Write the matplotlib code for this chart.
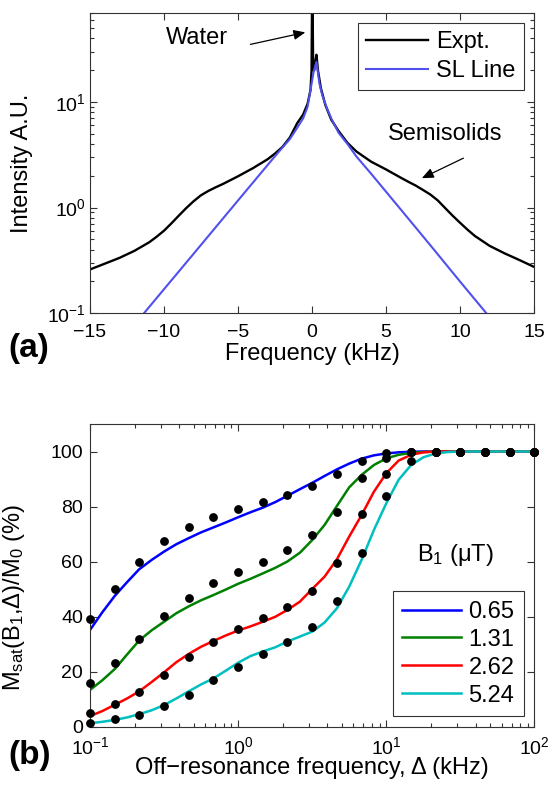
import matplotlib
matplotlib.use("Agg")
import matplotlib.pyplot as plt
from matplotlib.ticker import LogLocator, FixedLocator, NullFormatter

plt.rcParams['font.family'] = ['Liberation Sans', 'DejaVu Sans']
plt.rcParams['mathtext.fontset'] = 'custom'
plt.rcParams['mathtext.rm'] = 'Liberation Sans'
plt.rcParams['mathtext.it'] = 'Liberation Sans:italic'
plt.rcParams['mathtext.bf'] = 'Liberation Sans:bold'

# ---------------- panel (a) data ----------------
freq_expt = [-15, -14, -13, -12, -11, -10.5, -10, -9.5, -9, -8.5, -8, -7.5, -7, -6.5, -6,
             -5, -4, -3, -2.5, -2, -1.5, -1, -0.6, -0.3, -0.1, -0.03, 0.0, 0.04, 0.08,
             0.15, 0.22, 0.3, 0.4, 0.6, 0.9, 1.3, 1.8, 2.4, 3, 4, 5, 6, 6.5, 7, 7.5, 8,
             8.5, 9, 9.5, 10, 10.5, 11, 12, 13, 14, 15]
int_expt = [0.26, 0.295, 0.335, 0.39, 0.47, 0.53, 0.605, 0.71, 0.84, 0.99, 1.15, 1.31,
            1.44, 1.56, 1.68, 1.98, 2.36, 2.87, 3.25, 3.75, 4.6, 6.3, 7.6, 9.6, 13, 20,
            80, 80, 20, 20, 24, 28, 20, 13.5, 9.4, 6.8, 5.3, 4.1, 3.4, 2.72, 2.3, 1.92,
            1.76, 1.62, 1.47, 1.33, 1.17, 0.99, 0.84, 0.72, 0.62, 0.54, 0.435, 0.37,
            0.32, 0.275]

freq_sl = [-12, -10, -8, -6, -4, -3, -2.5, -2, -1.5, -1, -0.6, -0.3, -0.1, 0.1, 0.3,
           0.5, 0.7, 1.0, 1.3, 1.8, 2.4, 3.0, 4, 6, 8, 10, 12, 12.5]
int_sl = [0.078, 0.169, 0.366, 0.794, 1.72, 2.53, 3.07, 3.7, 4.45, 5.7, 7.0, 9.0, 13,
          19, 24, 15, 11.5, 8.8, 7.0, 5.1, 4.0, 3.05, 2.09, 0.96, 0.44, 0.20, 0.092, 0.076]

# ---------------- panel (b) data ----------------
b1_labels = ['0.65', '1.31', '2.62', '5.24']
b1_colors = ['#0000ff', '#008000', '#ff0000', '#00bfbf']

offres_pts = [0.1, 0.147, 0.215, 0.316, 0.464, 0.681, 1.0, 1.47, 2.15, 3.16, 4.64, 6.81,
              10, 14.7, 21.5, 31.6, 46.4, 68.1, 100]
msat_pts_065 = [39.0, 50.1, 59.8, 67.4, 72.6, 76.2, 79.1, 81.8, 84.3, 87.6, 91.7, 96.7,
                99.3, 99.8, 100, 100, 100, 100, 100]
msat_pts_131 = [15.9, 23.2, 31.7, 40.2, 46.9, 52.1, 56.3, 60.0, 64.2, 69.7, 77.9, 90.5,
                97.5, 99.8, 100, 100, 100, 100, 100]
msat_pts_262 = [5.0, 8.1, 12.7, 18.7, 25.2, 30.7, 35.5, 39.3, 43.6, 49.4, 59.4, 77.2,
                91.7, 99.8, 100, 100, 100, 100, 100]
msat_pts_524 = [1.4, 2.6, 4.2, 7.4, 11.5, 16.9, 21.7, 26.3, 30.9, 36.3, 45.7, 63.1,
                83.8, 96.7, 100, 100, 100, 100, 100]

offres_fit = [0.1, 0.121, 0.147, 0.178, 0.215, 0.261, 0.316, 0.383, 0.464, 0.562, 0.681,
              0.825, 1.0, 1.21, 1.47, 1.78, 2.15, 2.61, 3.16, 3.83, 4.64, 5.62, 6.81,
              8.25, 10, 12.1, 14.7, 17.8, 21.5, 26.1, 31.6, 38.3, 46.4, 56.2, 68.1, 82.5, 100]
msat_fit_065 = [35.1, 41.5, 47.5, 52.5, 57.2, 60.6, 63.6, 66.3, 68.5, 70.6, 72.4, 74.2,
                76.1, 77.9, 79.6, 81.6, 83.9, 86.3, 88.6, 91.1, 93.5, 95.6, 97.4, 98.6,
                99.3, 99.7, 99.9, 100, 100, 100, 100, 100, 100, 100, 100, 100, 100]
msat_fit_131 = [13.3, 16.8, 20.9, 26.2, 31.3, 35.0, 38.1, 41.2, 43.7, 45.9, 47.8, 49.8,
                51.9, 53.7, 55.7, 57.7, 60.0, 63.2, 67.8, 73.3, 80.2, 87.0, 91.5, 95.1,
                97.5, 98.8, 99.5, 99.8, 100, 100, 100, 100, 100, 100, 100, 100, 100]
msat_fit_262 = [3.8, 5.6, 7.9, 10.2, 12.8, 16.2, 19.7, 23.4, 26.4, 29.0, 31.1, 33.1,
                34.9, 36.4, 38.1, 39.9, 42.4, 45.4, 50.0, 54.5, 60.8, 69.1, 76.9, 85.4,
                92.1, 96.7, 98.8, 99.7, 100, 100, 100, 100, 100, 100, 100, 100, 100]
msat_fit_524 = [1.2, 1.7, 2.4, 3.3, 4.5, 5.9, 7.8, 10.2, 12.8, 15.3, 17.5, 20.3,
                23.2, 25.6, 27.3, 28.8, 30.9, 32.7, 34.5, 37.8, 43.0, 50.9, 60.6, 71.5,
                81.2, 89.7, 95.1, 97.9, 99.3, 99.8, 100, 100, 100, 100, 100, 100, 100]

msat_pts = [msat_pts_065, msat_pts_131, msat_pts_262, msat_pts_524]
msat_fit = [msat_fit_065, msat_fit_131, msat_fit_262, msat_fit_524]

W, H = 550, 789
fig = plt.figure(figsize=(W / 100, H / 100), dpi=100)

def fx(px):
    return px / W

def fy(py):
    return 1 - py / H

TICK_FS = 14
LAB_FS = 17

# ---------------- panel (a) ----------------
ax1 = fig.add_axes([fx(90), fy(313.3), fx(534) - fx(90), fy(12.7) - fy(313.3)])
ax1.plot(freq_expt, int_expt, color='black', lw=1.7, label='Expt.')
ax1.plot(freq_sl, int_sl, color='#5050ee', lw=1.5, label='SL Line')
ax1.set_yscale('log')
ax1.set_xlim(-15, 15)
ax1.set_ylim(0.1, 70)
ax1.set_xticks([-15, -10, -5, 0, 5, 10, 15])
ax1.yaxis.set_major_locator(FixedLocator([0.1, 1, 10]))
ax1.yaxis.set_minor_locator(LogLocator(base=10, subs=range(2, 10)))
ax1.yaxis.set_minor_formatter(NullFormatter())
ax1.tick_params(which='both', direction='in', top=True, right=True, labelsize=TICK_FS,
                width=0.8, color='#333333')
ax1.tick_params(which='major', length=5)
ax1.tick_params(which='minor', length=3)
ax1.tick_params(axis='x', pad=8)
ax1.tick_params(axis='y', pad=3)
ax1.set_xlabel('Frequency (kHz)', fontsize=LAB_FS, labelpad=1)
ax1.set_ylabel('Intensity A.U.', fontsize=LAB_FS)
ax1.yaxis.set_label_coords(-0.128, 0.5)
for s in ax1.spines.values():
    s.set_linewidth(0.8)
    s.set_color('#333333')
leg1 = ax1.legend(loc='upper right', bbox_to_anchor=(0.977, 0.967), fontsize=LAB_FS,
                  frameon=True, fancybox=False, edgecolor='black', handlelength=2.6,
                  handletextpad=0.35, borderpad=0.35, labelspacing=0.3,
                  borderaxespad=0)
leg1.get_frame().set_linewidth(0.8)

ax1.text(-7.77, 40, 'Water', fontsize=LAB_FS, ha='center', va='center')
ax1.annotate('', xy=(-0.45, 45.6), xytext=(-4.16, 35.1),
             arrowprops=dict(arrowstyle='-|>,head_length=0.7,head_width=0.3',
                             color='black', lw=0.9, shrinkA=0, shrinkB=0))
ax1.text(8.99, 5.0, 'Semisolids', fontsize=LAB_FS, ha='center', va='center')
ax1.annotate('', xy=(7.42, 1.90), xytext=(10.23, 2.94),
             arrowprops=dict(arrowstyle='-|>,head_length=0.7,head_width=0.3',
                             color='black', lw=0.9, shrinkA=0, shrinkB=0))

fig.text(fx(8), fy(357), '(a)', fontsize=24, fontweight='bold', ha='left', va='baseline')

# ---------------- panel (b) ----------------
ax2 = fig.add_axes([fx(90), fy(726.5), fx(534.5) - fx(90), fy(424) - fy(726.5)])
for lab, col, fit in zip(b1_labels, b1_colors, msat_fit):
    ax2.plot(offres_fit, fit, color=col, lw=1.8, label=lab)
for pts in msat_pts:
    ax2.plot(offres_pts, pts, 'o', color='black', ms=5.3, clip_on=False, zorder=5)
ax2.set_xscale('log')
ax2.set_xlim(0.1, 100)
ax2.set_ylim(0, 110)
ax2.set_yticks([0, 20, 40, 60, 80, 100])
ax2.xaxis.set_major_locator(FixedLocator([0.1, 1, 10, 100]))
ax2.xaxis.set_minor_locator(LogLocator(base=10, subs=range(2, 10)))
ax2.xaxis.set_minor_formatter(NullFormatter())
ax2.tick_params(which='both', direction='in', top=True, right=True, labelsize=TICK_FS,
                width=0.8, color='#333333')
ax2.tick_params(which='major', length=5)
ax2.tick_params(which='minor', length=3)
ax2.tick_params(axis='x', pad=7)
ax2.tick_params(axis='y', pad=5)
ax2.set_xlabel('Off\u2212resonance frequency, \u0394 (kHz)', fontsize=LAB_FS, labelpad=-1)
ax2.set_ylabel(r'M$_{\rm sat}$(B$_1$,$\Delta$)/M$_0$ (%)', fontsize=LAB_FS)
ax2.yaxis.set_label_coords(-0.142, 0.425)
for s in ax2.spines.values():
    s.set_linewidth(0.8)
    s.set_color('#333333')
leg2 = ax2.legend(loc='lower right', bbox_to_anchor=(0.976, 0.0347), fontsize=LAB_FS,
                  frameon=True, fancybox=False, edgecolor='black', handlelength=2.5,
                  handletextpad=0.3, borderpad=0.4, labelspacing=0.25,
                  borderaxespad=0)
leg2.get_frame().set_linewidth(0.8)
ax2.text(0.823, 0.567, 'B$_1$ (\u03bcT)', transform=ax2.transAxes, fontsize=LAB_FS,
         ha='center', va='center')

fig.text(fx(8), fy(764), '(b)', fontsize=24, fontweight='bold', ha='left', va='baseline')

fig.savefig('out.png', dpi=100)
